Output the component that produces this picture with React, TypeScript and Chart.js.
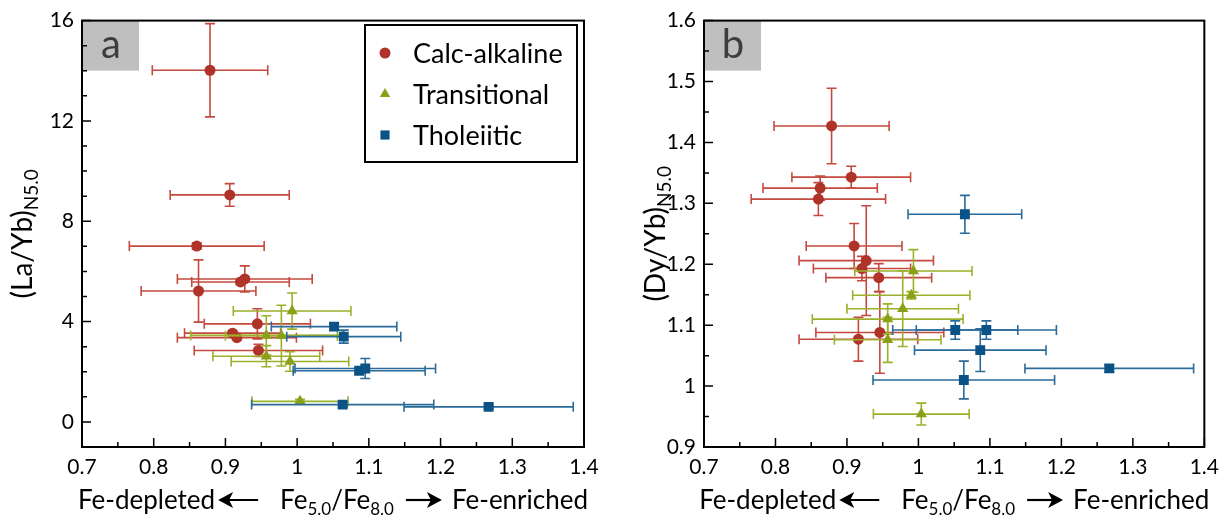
import React, { useEffect, useRef } from 'react';
import { Chart, registerables } from 'chart.js';

Chart.register(...registerables);

// ---------------- data ----------------
const groupNames = ['Calc-alkaline', 'Transitional', 'Tholeiitic'];

// Fe5.0/Fe8.0 (same samples in both panels) with error half-widths
const caFe = [0.8785, 0.906, 0.86, 0.927, 0.921, 0.8625, 0.9445, 0.91, 0.916, 0.946];
const caFeErr = [0.0805, 0.083, 0.094, 0.094, 0.068, 0.08, 0.074, 0.067, 0.083, 0.0895];
const caLaYb = [14.02, 9.05, 7.01, 5.7, 5.58, 5.22, 3.91, 3.54, 3.36, 2.85];
const caLaYbErr = [1.86, 0.45, 0.12, 0.52, 0.1, 1.24, 0.6, 0.08, 0.08, 0.24];
const caDyYb = [1.427, 1.343, 1.307, 1.206, 1.193, 1.325, 1.178, 1.23, 1.077, 1.088];
const caDyYbErr = [0.062, 0.018, 0.027, 0.09, 0.02, 0.02, 0.023, 0.037, 0.036, 0.067];

const trFe = [0.993, 0.957, 0.978, 0.957, 0.99, 1.004];
const trFeErr = [0.082, 0.1055, 0.078, 0.0745, 0.082, 0.067];
const trLaYb = [4.42, 3.45, 3.44, 2.62, 2.41, 0.82];
const trLaYbErr = [0.72, 0.78, 1.21, 0.42, 0.39, 0.08];
const trDyYb = [1.189, 1.11, 1.127, 1.076, 1.149, 0.954];
const trDyYbErr = [0.035, 0.025, 0.062, 0.037, 0.006, 0.018];

const thFe = [1.0515, 1.065, 1.0865, 1.095, 1.0635, 1.267];
const thFeErr = [0.0875, 0.0795, 0.092, 0.098, 0.127, 0.118];
const thLaYb = [3.8, 3.4, 2.04, 2.13, 0.69, 0.6];
const thLaYbErr = [0.12, 0.26, 0.1, 0.4, 0.1, 0.08];
const thDyYb = [1.092, 1.282, 1.059, 1.092, 1.01, 1.029];
const thDyYbErr = [0.015, 0.031, 0.035, 0.015, 0.031, 0.006];

const xTicks = [0.7, 0.8, 0.9, 1.0, 1.1, 1.2, 1.3, 1.4];
const aYTicks = [0, 4, 8, 12, 16];
const bYTicks = [0.9, 1.0, 1.1, 1.2, 1.3, 1.4, 1.5, 1.6];

// ---------------- styles ----------------
const FONT = 'Lato';
const H = 523;
const AREA_TOP = 20;
const AREA_BOTTOM = 447;

const groupStyles = [
  { marker: '#b0332a', err: '#c4493f', shape: 'circle', radius: 5.5, order: 2 },
  { marker: '#8aa016', err: '#9bb12a', shape: 'triangle', radius: 6.5, order: 1 },
  { marker: '#0b5286', err: '#2a6b99', shape: 'rect', radius: 7, order: 0 },
];

type PanelCfg = {
  id: string;
  left: number;
  width: number;
  areaLeft: number;
  areaRight: number;
  yMin: number;
  yMax: number;
  yTicks: number[];
  yMinorDiv: number;
  yTitle: string;
  ySub: string;
  yTitleX: number;
  legend: boolean;
  fe: number[][];
  feErr: number[][];
  ys: number[][];
  yErrs: number[][];
};

const panelA: PanelCfg = {
  id: 'a', left: 0, width: 620, areaLeft: 82, areaRight: 584,
  yMin: -1, yMax: 16, yTicks: aYTicks, yMinorDiv: 4,
  yTitle: '(La/Yb)', ySub: 'N5.0', yTitleX: 22, legend: true,
  fe: [caFe, trFe, thFe], feErr: [caFeErr, trFeErr, thFeErr],
  ys: [caLaYb, trLaYb, thLaYb], yErrs: [caLaYbErr, trLaYbErr, thLaYbErr],
};

const panelB: PanelCfg = {
  id: 'b', left: 620, width: 607, areaLeft: 84, areaRight: 585,
  yMin: 0.9, yMax: 1.6, yTicks: bYTicks, yMinorDiv: 2,
  yTitle: '(Dy/Yb)', ySub: 'N5.0', yTitleX: 35, legend: false,
  fe: [caFe, trFe, thFe], feErr: [caFeErr, trFeErr, thFeErr],
  ys: [caDyYb, trDyYb, thDyYb], yErrs: [caDyYbErr, trDyYbErr, thDyYbErr],
};

const fmt = (v: any) => String(parseFloat(Number(v).toFixed(2)));

function minorValues(majors: number[], div: number) {
  const out: number[] = [];
  for (let i = 0; i < majors.length - 1; i++) {
    const a = majors[i], b = majors[i + 1];
    for (let k = 1; k < div; k++) out.push(a + ((b - a) * k) / div);
  }
  return out;
}

function drawMarker(ctx: CanvasRenderingContext2D, shape: string, x: number, y: number, r: number, color: string) {
  ctx.save();
  ctx.fillStyle = color;
  ctx.beginPath();
  if (shape === 'circle') {
    ctx.arc(x, y, r, 0, Math.PI * 2);
  } else if (shape === 'triangle') {
    const h = r * 1.5;
    ctx.moveTo(x, y - r);
    ctx.lineTo(x + r * 0.866, y + r * 0.5);
    ctx.lineTo(x - r * 0.866, y + r * 0.5);
    ctx.closePath();
  } else {
    const s = r * Math.SQRT1_2;
    ctx.rect(x - s, y - s, 2 * s, 2 * s);
  }
  ctx.fill();
  ctx.restore();
}

function drawArrow(ctx: CanvasRenderingContext2D, x0: number, x1: number, y: number, dir: 'left' | 'right') {
  ctx.save();
  ctx.strokeStyle = '#000';
  ctx.fillStyle = '#000';
  ctx.lineWidth = 2.2;
  const tip = dir === 'left' ? x0 : x1;
  const tail = dir === 'left' ? x1 : x0;
  const s = dir === 'left' ? 1 : -1;
  ctx.beginPath();
  ctx.moveTo(tail, y);
  ctx.lineTo(tip + s * 6, y);
  ctx.stroke();
  ctx.beginPath();
  ctx.moveTo(tip, y);
  ctx.lineTo(tip + s * 15, y - 8);
  ctx.lineTo(tip + s * 11, y);
  ctx.lineTo(tip + s * 15, y + 8);
  ctx.closePath();
  ctx.fill();
  ctx.restore();
}

const decorPlugin = {
  id: 'decor',
  beforeDatasetsDraw(chart: any) {
    const cfg: PanelCfg = chart.options.plugins.decor.cfg;
    const ctx: CanvasRenderingContext2D = chart.ctx;
    const { left, top } = chart.chartArea;
    ctx.save();
    ctx.fillStyle = '#bfbfbf';
    ctx.fillRect(left, top, 57, 50);
    ctx.fillStyle = '#3d3d3d';
    ctx.font = `40px ${FONT}`;
    ctx.textAlign = 'center';
    ctx.textBaseline = 'middle';
    ctx.fillText(cfg.id, left + 29, top + 24);
    ctx.restore();
  },
  beforeDatasetDraw(chart: any, args: any) {
    const ds: any = chart.data.datasets[args.index];
    const ctx: CanvasRenderingContext2D = chart.ctx;
    const xs = chart.scales.x, ys = chart.scales.y;
    const cap = 5;
    ctx.save();
    ctx.strokeStyle = ds.errColor;
    ctx.lineWidth = 1.6;
    ds.data.forEach((p: any, i: number) => {
      const cx = xs.getPixelForValue(p.x), cy = ys.getPixelForValue(p.y);
      const x0 = xs.getPixelForValue(p.x - ds.xErr[i]);
      const x1 = xs.getPixelForValue(p.x + ds.xErr[i]);
      const y0 = ys.getPixelForValue(p.y - ds.yErr[i]);
      const y1 = ys.getPixelForValue(p.y + ds.yErr[i]);
      ctx.beginPath();
      ctx.moveTo(x0, cy); ctx.lineTo(x1, cy);
      ctx.moveTo(x0, cy - cap); ctx.lineTo(x0, cy + cap);
      ctx.moveTo(x1, cy - cap); ctx.lineTo(x1, cy + cap);
      ctx.moveTo(cx, y0); ctx.lineTo(cx, y1);
      ctx.moveTo(cx - cap, y0); ctx.lineTo(cx + cap, y0);
      ctx.moveTo(cx - cap, y1); ctx.lineTo(cx + cap, y1);
      ctx.stroke();
    });
    ctx.restore();
  },
  afterDraw(chart: any) {
    const cfg: PanelCfg = chart.options.plugins.decor.cfg;
    const ctx: CanvasRenderingContext2D = chart.ctx;
    const { left, right, top, bottom } = chart.chartArea;
    const xs = chart.scales.x, ys = chart.scales.y;
    ctx.save();
    // ticks (inward)
    ctx.strokeStyle = '#000';
    ctx.lineWidth = 1.5;
    ctx.beginPath();
    xTicks.forEach((v) => {
      const px = xs.getPixelForValue(v);
      ctx.moveTo(px, bottom); ctx.lineTo(px, bottom - 9);
    });
    minorValues(xTicks, 2).forEach((v) => {
      const px = xs.getPixelForValue(v);
      ctx.moveTo(px, bottom); ctx.lineTo(px, bottom - 5);
    });
    cfg.yTicks.forEach((v) => {
      const py = ys.getPixelForValue(v);
      ctx.moveTo(left, py); ctx.lineTo(left + 9, py);
    });
    minorValues(cfg.yTicks, cfg.yMinorDiv).forEach((v) => {
      const py = ys.getPixelForValue(v);
      ctx.moveTo(left, py); ctx.lineTo(left + 5, py);
    });
    ctx.stroke();
    // frame
    ctx.lineWidth = 2;
    ctx.strokeRect(left, top, right - left, bottom - top);

    // y title (rotated, with subscript)
    const big = `28px ${FONT}`, small = `19px ${FONT}`;
    ctx.fillStyle = '#000';
    ctx.textBaseline = 'alphabetic';
    ctx.textAlign = 'left';
    ctx.font = big;
    const w1 = ctx.measureText(cfg.yTitle).width;
    ctx.font = small;
    const w2 = ctx.measureText(cfg.ySub).width;
    ctx.save();
    ctx.translate(cfg.yTitleX, (top + bottom) / 2);
    ctx.rotate(-Math.PI / 2);
    const st = -(w1 + w2) / 2;
    ctx.font = big;
    ctx.fillText(cfg.yTitle, st, 10);
    ctx.font = small;
    ctx.fillText(cfg.ySub, st + w1, 16);
    ctx.restore();

    // x title
    const tBig = `26px ${FONT}`, tSmall = `17px ${FONT}`;
    const pieces: any[] = [
      { t: 'Fe-depleted', f: tBig },
      { gap: 3 },
      { arrow: 'left', w: 40 },
      { gap: 22 },
      { t: 'Fe', f: tBig },
      { t: '5.0', f: tSmall, sub: true },
      { t: '/Fe', f: tBig },
      { t: '8.0', f: tSmall, sub: true },
      { gap: 12 },
      { arrow: 'right', w: 36 },
      { gap: 10 },
      { t: 'Fe-enriched', f: tBig },
    ];
    let total = 0;
    pieces.forEach((p) => {
      if (p.t) { ctx.font = p.f; p.w = ctx.measureText(p.t).width; }
      total += p.gap ?? p.w;
    });
    const baseline = 509;
    let x = (left + right) / 2 - total / 2;
    pieces.forEach((p) => {
      if (p.gap) { x += p.gap; return; }
      if (p.arrow) { drawArrow(ctx, x, x + p.w, baseline - 9, p.arrow); x += p.w; return; }
      ctx.font = p.f;
      ctx.fillText(p.t, x, p.sub ? baseline + 6 : baseline);
      x += p.w;
    });

    // legend
    if (cfg.legend) {
      const lx = 365, ly = 25, lw = 212, lh = 137;
      ctx.fillStyle = '#fff';
      ctx.fillRect(lx, ly, lw, lh);
      ctx.strokeStyle = '#000';
      ctx.lineWidth = 2;
      ctx.strokeRect(lx, ly, lw, lh);
      const rows = [53, 94, 135];
      ctx.font = `27px ${FONT}`;
      ctx.textBaseline = 'middle';
      groupNames.forEach((name, i) => {
        const st = groupStyles[i];
        drawMarker(ctx, st.shape, 385, rows[i], st.shape === 'circle' ? 5.5 : st.shape === 'triangle' ? 6 : 6.5, st.marker);
        ctx.fillStyle = '#000';
        ctx.fillText(name, 413, rows[i] + 1);
      });
    }
    ctx.restore();
  },
};

function buildConfig(cfg: PanelCfg): any {
  const datasets = groupNames.map((name, gi) => {
    const st = groupStyles[gi];
    return {
      label: name,
      data: cfg.fe[gi].map((x, i) => ({ x, y: cfg.ys[gi][i] })),
      xErr: cfg.feErr[gi],
      yErr: cfg.yErrs[gi],
      errColor: st.err,
      pointStyle: st.shape,
      pointRadius: st.radius,
      pointBackgroundColor: st.marker,
      pointBorderColor: st.marker,
      pointBorderWidth: 0,
      order: st.order,
      showLine: false,
    };
  });
  return {
    type: 'scatter',
    data: { datasets },
    plugins: [decorPlugin],
    options: {
      responsive: false,
      animation: false,
      devicePixelRatio: 1,
      layout: { padding: { left: 0, right: cfg.width - cfg.areaRight, top: AREA_TOP, bottom: 0 } },
      plugins: {
        legend: { display: false },
        tooltip: { enabled: false },
        decor: { cfg },
      },
      scales: {
        x: {
          type: 'linear',
          min: 0.7,
          max: 1.4,
          grid: { display: false, drawTicks: false },
          border: { display: false },
          afterBuildTicks: (s: any) => { s.ticks = xTicks.map((v) => ({ value: v })); },
          afterFit: (s: any) => { s.height = H - AREA_BOTTOM; },
          ticks: {
            font: { family: FONT, size: 21 },
            color: '#000',
            padding: 8,
            maxRotation: 0,
            autoSkip: false,
            callback: (v: any) => fmt(v),
          },
        },
        y: {
          type: 'linear',
          min: cfg.yMin,
          max: cfg.yMax,
          grid: { display: false, drawTicks: false },
          border: { display: false },
          afterBuildTicks: (s: any) => { s.ticks = cfg.yTicks.map((v) => ({ value: v })); },
          afterFit: (s: any) => { s.width = cfg.areaLeft; },
          ticks: {
            font: { family: FONT, size: 21 },
            color: '#000',
            padding: 8,
            autoSkip: false,
            callback: (v: any) => fmt(v),
          },
        },
      },
    },
  };
}

function Panel({ cfg }: { cfg: PanelCfg }) {
  const ref = useRef<HTMLCanvasElement>(null);
  useEffect(() => {
    const chart = new Chart(ref.current as HTMLCanvasElement, buildConfig(cfg));
    return () => chart.destroy();
  }, [cfg]);
  return (
    <canvas
      ref={ref}
      width={cfg.width}
      height={H}
      style={{ position: 'absolute', left: cfg.left, top: 0, width: cfg.width, height: H }}
    />
  );
}

export default function App() {
  return (
    <div style={{ position: 'absolute', left: 0, top: 0, width: 1227, height: H, background: '#fff', overflow: 'hidden' }}>
      <Panel cfg={panelA} />
      <Panel cfg={panelB} />
    </div>
  );
}
